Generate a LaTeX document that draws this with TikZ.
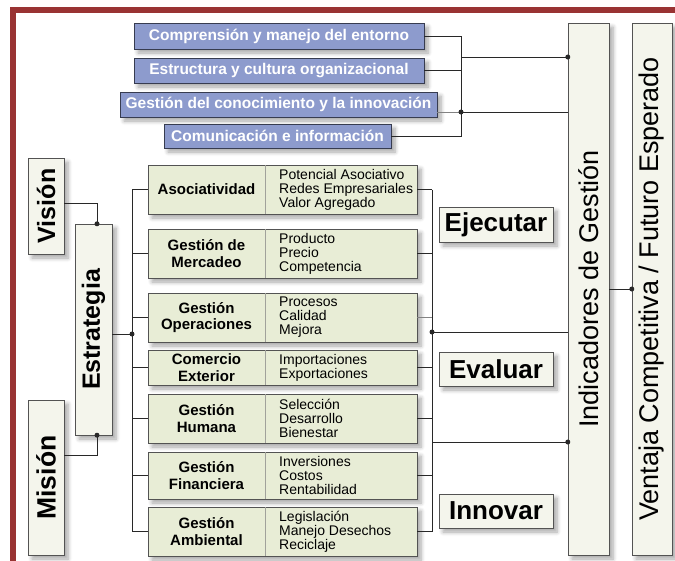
\documentclass[tikz,border=0pt]{standalone}
\usepackage{fontspec}
\setmainfont{Liberation Sans}
\usetikzlibrary{shadows.blur, calc}
\definecolor{framered}{RGB}{153,51,51}
\definecolor{slateblue}{RGB}{141,155,205}
\definecolor{slateedge}{RGB}{55,60,80}
\definecolor{palegreen}{RGB}{232,237,214}
\definecolor{cream}{RGB}{244,245,236}
\definecolor{darkline}{RGB}{40,40,40}
\definecolor{midgray}{RGB}{130,130,130}
\tikzset{
  softshadow/.style={blur shadow={shadow xshift=4pt, shadow yshift=-4pt,
                     shadow blur steps=6, shadow opacity=35, shadow blur radius=4pt}},
  bluebox/.style={rectangle, draw=slateedge, fill=slateblue, softshadow,
                  inner sep=0pt, minimum height=26pt, text=white,
                  font=\fontsize{15.5}{17}\selectfont\bfseries},
  areabox/.style={rectangle, draw=darkline!80, fill=palegreen, softshadow,
                  inner sep=0pt, minimum width=269pt},
  arealabel/.style={align=center, inner sep=0pt,
                    font=\fontsize{15}{16.5}\selectfont\bfseries},
  areaitems/.style={align=left, anchor=west, inner sep=0pt,
                    font=\fontsize{14}{14}\selectfont},
  divider/.style={draw=midgray!70!palegreen, line width=0.8pt},
  tallbox/.style={rectangle, draw=darkline!80, fill=cream, softshadow, inner sep=0pt},
  talltext/.style={rotate=90, inner sep=0pt, font=\fontsize{25}{27}\selectfont\bfseries},
  pillartext/.style={rotate=90, inner sep=0pt, font=\fontsize{27}{29}\selectfont},
  actionbox/.style={rectangle, draw=darkline!80, fill=cream, softshadow, inner sep=0pt,
                    minimum width=114pt, minimum height=35pt,
                    font=\fontsize{26}{28}\selectfont\bfseries},
  conn/.style={draw=darkline, line width=0.9pt},
  lightconn/.style={draw=midgray, line width=0.9pt},
}

\begin{document}
\begin{tikzpicture}[x=1pt, y=-1pt]
  \useasboundingbox (0,0) rectangle (675,560);
  \clip (0,0) rectangle (675,560);
  \draw[framered, line width=6pt] (13,10) rectangle (720,600);

  % Environment boxes
  \node[bluebox, minimum width=290pt] (entorno) at (279,36)
    {Comprensión y manejo del entorno};
  \node[bluebox, minimum width=290pt, minimum height=25pt] (estructura) at (279,70.5)
    {Estructura y cultura organizacional};
  \node[bluebox, minimum width=317pt, minimum height=25pt] (conocimiento) at (278.5,104.5)
    {Gestión del conocimiento y la innovación};
  \node[bluebox, minimum width=227pt, minimum height=24pt] (comunicacion) at (277.5,136)
    {Comunicación e información};

  % Pillars
  \node[tallbox, minimum width=41pt, minimum height=532pt] (indicadores) at (588.5,289) {};
  \node[pillartext] (indicadoresText) at (indicadores) {Indicadores de Gestión};
  \node[tallbox, minimum width=40pt, minimum height=532pt] (ventaja) at (652,289) {};
  \node[pillartext] (ventajaText) at (ventaja) {Ventaja Competitiva / Futuro Esperado};

  % Vision, strategy, mission
  \node[tallbox, minimum width=36pt, minimum height=96pt] (vision) at (46,206) {};
  \node[talltext] (visionText) at (vision) {Visión};
  \node[tallbox, minimum width=37pt, minimum height=211pt] (estrategia) at (93.5,329.5) {};
  \node[talltext] (estrategiaText) at (estrategia) {Estrategia};
  \node[tallbox, minimum width=36pt, minimum height=155pt] (mision) at (46,477.5) {};
  \node[talltext, font=\fontsize{26.5}{28}\selectfont\bfseries] (misionText) at (mision) {Misión};

  % Management areas
  \coordinate (labX) at (206.5,0);
  \coordinate (itemX) at (279,0);
  \coordinate (divX) at (265,0);

  \node[areabox, minimum height=49pt] (asoc) at (282.5,189.5) {};
  \node[arealabel] (asocL) at (asoc -| labX) {Asociatividad};
  \node[areaitems] (asocR) at (asoc -| itemX)
    {Potencial Asociativo\\Redes Empresariales\\Valor Agregado};
  \draw[divider] (asoc.north -| divX) -- (asoc.south -| divX);

  \node[areabox, minimum height=49pt] (merc) at (282.5,253.5) {};
  \node[arealabel] (mercL) at (merc -| labX) {Gestión de\\Mercadeo};
  \node[areaitems] (mercR) at (merc -| itemX) {Producto\\Precio\\Competencia};
  \draw[divider] (merc.north -| divX) -- (merc.south -| divX);

  \node[areabox, minimum height=49pt] (oper) at (282.5,317.5) {};
  \node[arealabel] (operL) at (oper -| labX) {Gestión\\Operaciones};
  \node[areaitems] (operR) at (oper -| itemX) {Procesos\\Calidad\\Mejora};
  \draw[divider] (oper.north -| divX) -- (oper.south -| divX);

  \node[areabox, minimum height=35pt] (come) at (282.5,367.5) {};
  \node[arealabel] (comeL) at (come -| labX) {Comercio\\Exterior};
  \node[areaitems] (comeR) at (come -| itemX) {Importaciones\\Exportaciones};
  \draw[divider] (come.north -| divX) -- (come.south -| divX);

  \node[areabox, minimum height=49pt] (huma) at (282.5,418.5) {};
  \node[arealabel] (humaL) at (huma -| labX) {Gestión\\Humana};
  \node[areaitems] (humaR) at (huma -| itemX) {Selección\\Desarrollo\\Bienestar};
  \draw[divider] (huma.north -| divX) -- (huma.south -| divX);

  \node[areabox, minimum height=47pt] (fina) at (282.5,475.5) {};
  \node[arealabel] (finaL) at (fina -| labX) {Gestión\\Financiera};
  \node[areaitems] (finaR) at (fina -| itemX) {Inversiones\\Costos\\Rentabilidad};
  \draw[divider] (fina.north -| divX) -- (fina.south -| divX);

  \node[areabox, minimum height=49pt] (ambi) at (282.5,531.5) {};
  \node[arealabel] (ambiL) at (ambi -| labX) {Gestión\\Ambiental};
  \node[areaitems] (ambiR) at (ambi -| itemX) {Legislación\\Manejo Desechos\\Reciclaje};
  \draw[divider] (ambi.north -| divX) -- (ambi.south -| divX);

  % Actions
  \node[actionbox] (ejecutar) at (496,224.5) {Ejecutar};
  \node[actionbox, minimum height=34pt] (evaluar) at (496,369) {Evaluar};
  \node[actionbox, minimum height=34pt] (innovar) at (496,511) {Innovar};

  % Environment connectors
  \coordinate (envTop) at (461,36);
  \coordinate (envBot) at (461,136);
  \coordinate (envJoin) at (461,112);
  \coordinate (envOut) at (461,57);
  \draw[conn] (entorno.east) -- (envTop) -- (envBot) -- (comunicacion.east);
  \draw[conn] (estructura.east) -- (estructura.east -| envTop);
  \draw[lightconn] (conocimiento.east |- envJoin) -- (envJoin);
  \draw[conn] (envOut) -- (envOut -| indicadores.west);
  \draw[conn] (envJoin) -- (envJoin -| indicadores.west);
  \fill[darkline] (envOut -| indicadores.west) circle (2.5pt);
  \fill[darkline] (envJoin) circle (2.5pt);

  % Vision and mission to strategy
  \coordinate (visJoin) at (97,203);
  \coordinate (misJoin) at (97,455);
  \draw[conn] (vision.east |- visJoin) -- (visJoin) -- (visJoin |- estrategia.north);
  \draw[conn] (mision.east |- misJoin) -- (misJoin) -- (misJoin |- estrategia.south);
  \fill[darkline] (visJoin |- estrategia.north) circle (2.5pt);
  \fill[darkline] (misJoin |- estrategia.south) circle (2.5pt);

  % Strategy to areas
  \coordinate (leftBus) at (132,334);
  \draw[conn] (estrategia.east |- leftBus) -- (leftBus);
  \draw[conn] (asoc.west -| leftBus) -- (ambi.west -| leftBus);
  \draw[conn] (asoc.west) -- (asoc.west -| leftBus);
  \draw[conn] (merc.west) -- (merc.west -| leftBus);
  \draw[conn] (oper.west) -- (oper.west -| leftBus);
  \draw[conn] (come.west) -- (come.west -| leftBus);
  \draw[conn] (huma.west) -- (huma.west -| leftBus);
  \draw[conn] (fina.west) -- (fina.west -| leftBus);
  \draw[conn] (ambi.west) -- (ambi.west -| leftBus);
  \fill[darkline] (leftBus) circle (2.5pt);

  % Areas to indicators
  \coordinate (rightBus) at (432,332);
  \coordinate (rightOut) at (432,442);
  \draw[conn] (asoc.east -| rightBus) -- (ambi.east -| rightBus);
  \draw[conn] (asoc.east) -- (asoc.east -| rightBus);
  \draw[conn] (merc.east) -- (merc.east -| rightBus);
  \draw[lightconn] (oper.east) -- (oper.east -| rightBus);
  \draw[conn] (come.east) -- (come.east -| rightBus);
  \draw[conn] (huma.east) -- (huma.east -| rightBus);
  \draw[conn] (fina.east) -- (fina.east -| rightBus);
  \draw[conn] (ambi.east) -- (ambi.east -| rightBus);
  \draw[conn] (rightBus) -- (rightBus -| indicadores.west);
  \draw[conn] (rightOut) -- (rightOut -| indicadores.west);
  \fill[darkline] (rightBus) circle (2.5pt);
  \fill[darkline] (rightOut -| indicadores.west) circle (2.5pt);

  % Indicators to advantage
  \draw[conn] (indicadores.east) -- (ventaja.west);
  \fill[darkline] (ventaja.west) circle (2.5pt);
\end{tikzpicture}
\end{document}
